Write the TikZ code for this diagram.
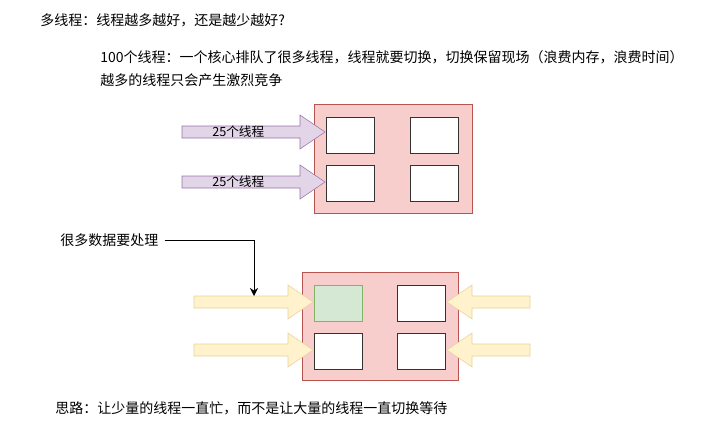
\documentclass[tikz,border=0pt]{standalone}
\usepackage{fontspec}
\setmainfont{Noto Sans CJK SC}
\usetikzlibrary{positioning,arrows.meta}
% fat arrow: tail x, head tip x, centre y
\newcommand\fatarrow[4]{%
  \pgfmathsetmacro\hx{#2-((#2-#1)>0 ? 25 : -25)}
  \draw[#4] (#1,#3-6) -- (\hx,#3-6) -- (\hx,#3-17) -- (#2,#3) -- (\hx,#3+17)
    -- (\hx,#3+6) -- (#1,#3+6) -- cycle;}
\definecolor{pinkfill}{HTML}{F8CECC}
\definecolor{pinkline}{HTML}{B85450}
\definecolor{lilac}{HTML}{E1D5E7}
\definecolor{lilacline}{HTML}{9673A6}
\definecolor{sand}{HTML}{FFF2CC}
\definecolor{sandline}{HTML}{D6B656}
\definecolor{mint}{HTML}{D5E8D4}
\definecolor{mintline}{HTML}{82B366}
\begin{document}
\begin{tikzpicture}[x=0.75pt,y=-0.75pt,font=\fontsize{10.5}{13}\selectfont,
    core/.style={draw=pinkline,fill=pinkfill},
    cell/.style={draw=black!80,fill=white},
    txt/.style={anchor=west,inner sep=0pt}]
  \useasboundingbox (0,0) rectangle (725,421);
  \node[txt] (title) at (40,20) {多线程：线程越多越好，还是越少越好?};
  \node[txt] (l1) at (100,57) {100个线程：一个核心排队了很多线程，线程就要切换，切换保留现场（浪费内存，浪费时间）};
  \node[txt] (l2) at (100,80) {越多的线程只会产生激烈竞争};
  % top block
  \draw[core] (314,104) rectangle (472,213);
  \foreach \x in {326,410} \foreach \y in {117,165}
    \draw[cell] (\x,\y) rectangle ++(48,36);
  \foreach \y in {132,182} {
    \fatarrow{182}{325}{\y}{draw=lilacline,fill=lilac}
    \node[txt,font=\fontsize{9.5}{11}\selectfont] at (212,\y) {25个线程};
  }
  % bottom block
  \draw[core] (302,272) rectangle (458,380);
  \draw[draw=mintline,fill=mint] (314,285) rectangle ++(48,36);
  \draw[cell] (397,285) rectangle ++(48,36);
  \draw[cell] (314,333) rectangle ++(48,36);
  \draw[cell] (397,333) rectangle ++(48,36);
  \foreach \y in {302,350} {
    \fatarrow{194}{313}{\y}{draw=sandline!60,fill=sand}
    \fatarrow{530}{447}{\y}{draw=sandline!60,fill=sand}
  }
  \node[txt] (data) at (60,240) {很多数据要处理};
  \coordinate (hit) at (254,296);
  \draw[-{Stealth[length=6pt,width=6pt]}] (data.east) ++(6,0) -| (hit);
  \node[txt,font=\fontsize{10.5}{13}\selectfont] (idea) at (55,408) {思路：让少量的线程一直忙，而不是让大量的线程一直切换等待};
\end{tikzpicture}
\end{document}
